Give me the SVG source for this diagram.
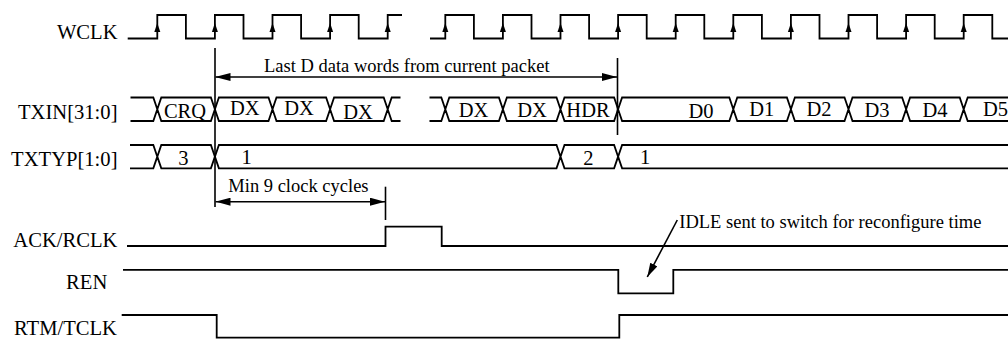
<svg xmlns="http://www.w3.org/2000/svg" xmlns:xlink="http://www.w3.org/1999/xlink" width="1008" height="339" viewBox="0 0 1008 339">
<style>
.bg{fill:#fff}
.sig{fill:none;stroke:#000;stroke-width:1.8;stroke-linejoin:miter}
.ln{fill:none;stroke:#000;stroke-width:1.6}
.lbl{font-family:"Liberation Serif","Times New Roman",serif;font-size:20.6px;fill:#000}
.bus{font-family:"Liberation Serif","Times New Roman",serif;font-size:20.5px;fill:#000;text-anchor:middle}
.ann{font-family:"Liberation Serif","Times New Roman",serif;font-size:18.5px;fill:#000}
.end{text-anchor:end}
</style>
<defs>
<path id="ca" d="M0,23 L-3,32 L3,32 Z" fill="#000"/>
<marker id="ah" viewBox="0 0 15 8" refX="15" refY="4" markerWidth="15" markerHeight="8" markerUnits="userSpaceOnUse" orient="auto-start-reverse">
<path d="M0,0 L15,4 L0,8 Z" fill="#000"/>
</marker>
<marker id="ah2" viewBox="0 0 14 8" refX="14" refY="4" markerWidth="14" markerHeight="8" markerUnits="userSpaceOnUse" orient="auto">
<path d="M0,0 L14,4 L0,8 Z" fill="#000"/>
</marker>
</defs>
<rect class="bg" x="0" y="0" width="1008" height="339"/>

<g id="wclk">
<text class="lbl end" x="117.5" y="38.5">WCLK</text>
<path class="sig" d="M127.7,38.5 H157.3 V15 H185.9 V38.5 H214.9 V15 H243.5 V38.5 H272.5 V15 H301.1 V38.5 H330.1 V15 H358.7 V38.5 H387.7 V15 H402"/>
<path class="sig" d="M430,38.5 H445.3 V15 H473.9 V38.5 H502.9 V15 H531.5 V38.5 H560.5 V15 H589.1 V38.5 H618.1 V15 H646.7 V38.5 H675.7 V15 H704.3 V38.5 H733.3 V15 H761.9 V38.5 H790.9 V15 H819.5 V38.5 H848.5 V15 H877.1 V38.5 H906.1 V15 H934.7 V38.5 H963.7 V15 H992.3 V38.5 H1010"/>
<use xlink:href="#ca" x="157.3"/><use xlink:href="#ca" x="214.9"/><use xlink:href="#ca" x="272.5"/><use xlink:href="#ca" x="330.1"/><use xlink:href="#ca" x="387.7"/>
<use xlink:href="#ca" x="445.3"/><use xlink:href="#ca" x="502.9"/><use xlink:href="#ca" x="560.5"/><use xlink:href="#ca" x="618.1"/><use xlink:href="#ca" x="675.7"/>
<use xlink:href="#ca" x="733.3"/><use xlink:href="#ca" x="790.9"/><use xlink:href="#ca" x="848.5"/><use xlink:href="#ca" x="906.1"/><use xlink:href="#ca" x="963.7"/>
</g>

<g id="txin">
<text class="lbl end" x="117.5" y="118.5">TXIN[31:0]</text>
<path class="sig" d="M130.5,97.5 H153.3 L157.3,109.25 L153.3,121 H130.5
M161.3,97.5 H210.9 L214.9,109.25 L210.9,121 H161.3 L157.3,109.25 Z
M218.9,97.5 H268.5 L272.5,109.25 L268.5,121 H218.9 L214.9,109.25 Z
M276.5,97.5 H326.1 L330.1,109.25 L326.1,121 H276.5 L272.5,109.25 Z
M334.1,97.5 H383.7 L387.7,109.25 L383.7,121 H334.1 L330.1,109.25 Z
M400.5,97.5 H391.7 L387.7,109.25 L391.7,121 H400.5
M429.5,97.5 H441.3 L445.3,109.25 L441.3,121 H429.5
M449.3,97.5 H498.9 L502.9,109.25 L498.9,121 H449.3 L445.3,109.25 Z
M506.9,97.5 H556.5 L560.5,109.25 L556.5,121 H506.9 L502.9,109.25 Z
M564.5,97.5 H614.1 L618.1,109.25 L614.1,121 H564.5 L560.5,109.25 Z
M622.1,97.5 H729.3 L733.3,109.25 L729.3,121 H622.1 L618.1,109.25 Z
M737.3,97.5 H786.9 L790.9,109.25 L786.9,121 H737.3 L733.3,109.25 Z
M794.9,97.5 H844.5 L848.5,109.25 L844.5,121 H794.9 L790.9,109.25 Z
M852.5,97.5 H902.1 L906.1,109.25 L902.1,121 H852.5 L848.5,109.25 Z
M910.1,97.5 H959.7 L963.7,109.25 L959.7,121 H910.1 L906.1,109.25 Z
M1010,97.5 H967.7 L963.7,109.25 L967.7,121 H1010"/>
<text class="bus" x="185" y="118">CRQ</text>
<text class="bus" x="244.7" y="115">DX</text>
<text class="bus" x="299" y="115">DX</text>
<text class="bus" x="358" y="119.3">DX</text>
<text class="bus" x="473.5" y="116.7">DX</text>
<text class="bus" x="532" y="116.7">DX</text>
<text class="bus" x="588" y="116.7">HDR</text>
<text class="bus" x="701" y="118.3">D0</text>
<text class="bus" x="761.7" y="116">D1</text>
<text class="bus" x="819" y="116">D2</text>
<text class="bus" x="877" y="116.5">D3</text>
<text class="bus" x="935" y="116.5">D4</text>
<text class="bus" x="995.5" y="116">D5</text>
</g>

<g id="txtyp">
<text class="lbl end" x="117.5" y="165.5">TXTYP[1:0]</text>
<path class="sig" d="M130,145 H153.3 L157.3,156.65 L153.3,168.3 H130
M161.3,145 H210.9 L214.9,156.65 L210.9,168.3 H161.3 L157.3,156.65 Z
M218.9,145 H556.5 L560.5,156.65 L556.5,168.3 H218.9 L214.9,156.65 Z
M564.5,145 H614.1 L618.1,156.65 L614.1,168.3 H564.5 L560.5,156.65 Z
M1010,145 H622.1 L618.1,156.65 L622.1,168.3 H1010"/>
<text class="bus" x="183.3" y="165">3</text>
<text class="bus" x="246.7" y="164">1</text>
<text class="bus" x="588.3" y="165">2</text>
<text class="bus" x="645" y="163.5">1</text>
</g>

<g id="ack">
<text class="lbl end" x="117.5" y="246.5">ACK/RCLK</text>
<path class="sig" d="M127,246 H385.5 V226.7 H441.7 V246 H1010"/>
</g>

<g id="ren">
<text class="lbl end" x="107.3" y="288.5">REN</text>
<path class="sig" d="M123,269.8 H618.3 V293.3 H673.3 V269.8 H1010"/>
</g>

<g id="rtm">
<text class="lbl end" x="117" y="335">RTM/TCLK</text>
<path class="sig" d="M121.7,315 H216.7 V337.6 H619.3 V315 H1010"/>
</g>

<g id="connectors">
<line class="ln" x1="215" y1="48" x2="215" y2="207"/>
<line class="ln" x1="617.5" y1="58" x2="617.5" y2="135"/>
<line class="ln" x1="385.5" y1="186.7" x2="385.5" y2="220"/>
<line class="ln" x1="215.5" y1="77" x2="617" y2="77" marker-start="url(#ah)" marker-end="url(#ah)"/>
<line class="ln" x1="215.5" y1="201.7" x2="385" y2="201.7" marker-start="url(#ah)" marker-end="url(#ah)"/>
<line class="ln" x1="677.3" y1="220" x2="647.3" y2="277" marker-end="url(#ah2)"/>
</g>

<g id="annotations">
<text class="ann" x="264" y="71.7">Last D data words from current packet</text>
<text class="ann" x="228.3" y="191.5">Min 9 clock cycles</text>
<text class="ann" x="679.3" y="228">IDLE sent to switch for reconfigure time</text>
</g>
</svg>
